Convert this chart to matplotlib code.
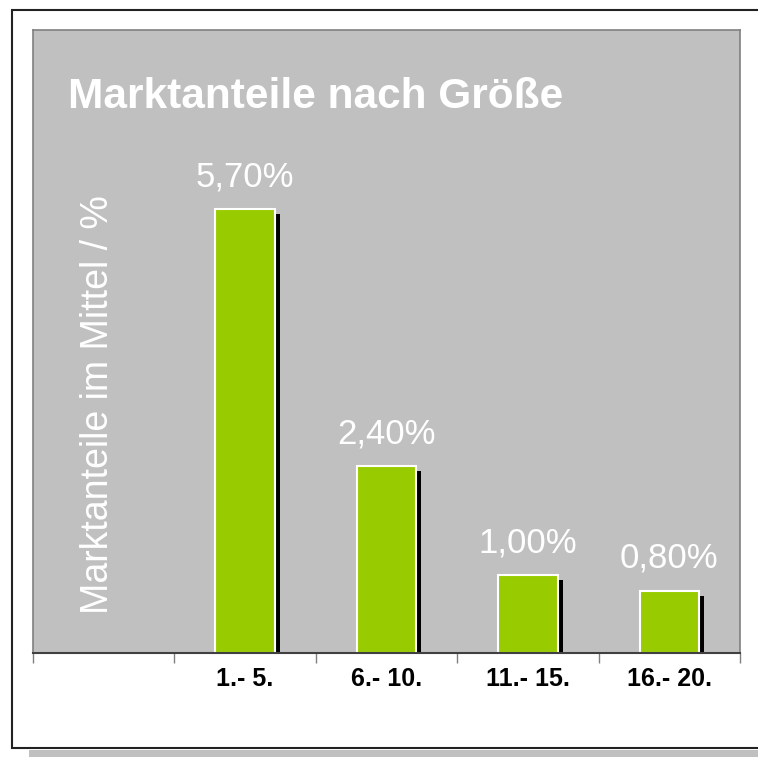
import matplotlib
matplotlib.use("Agg")
import matplotlib.pyplot as plt
import matplotlib.patheffects as pe
from matplotlib.patches import Rectangle

plt.rcParams['font.family'] = ['Liberation Sans', 'DejaVu Sans']

categories = ['', '1.- 5.', '6.- 10.', '11.- 15.', '16.- 20.']
values = [None, 5.7, 2.4, 1.0, 0.8]
value_labels = ['', '5,70%', '2,40%', '1,00%', '0,80%']
title = 'Marktanteile nach Größe'
ylabel = 'Marktanteile im Mittel / %'

W, H = 758, 757
fig = plt.figure(figsize=(W / 100, H / 100), dpi=100)

# outer frame + shadow strip at bottom
fig.patches.append(Rectangle((29 / W, 0), 1, 7 / H, transform=fig.transFigure,
                             facecolor='#c0c0c0', edgecolor='none', zorder=-2))
fig.patches.append(Rectangle((12 / W, 1 - 748 / H), 1, (748 - 10) / H,
                             transform=fig.transFigure, facecolor='white',
                             edgecolor='#222222', linewidth=1.5, zorder=-1))

ax = fig.add_axes([33 / W, 1 - 653 / H, (740 - 33) / W, (653 - 30) / H])
ax.set_facecolor('#c0c0c0')

xs = [i for i, v in enumerate(values) if v is not None]
hs = [v for v in values if v is not None]
bars = ax.bar(xs, hs, width=0.42, color='#99cc00', edgecolor='white', linewidth=1.5, zorder=2)
for b in bars:
    b.set_path_effects([pe.SimplePatchShadow(offset=(3.6, -3.6), shadow_rgbFace='black', alpha=1.0),
                        pe.Normal()])

for i, v in enumerate(values):
    if v is None:
        continue
    ax.annotate(value_labels[i], (i, v), xytext=(0, 16.5), textcoords='offset points',
                ha='center', va='baseline', color='white', fontsize=25)

ax.set_xlim(-0.5, len(categories) - 0.5)
ax.set_ylim(0, 8)
ax.set_yticks([])
ax.set_xticks([i - 0.5 for i in range(len(categories) + 1)])
ax.set_xticklabels([])
ax.tick_params(axis='x', which='major', direction='out', length=7.5, width=1, color='#808080')
ax.set_xticks(range(len(categories)), minor=True)
ax.set_xticklabels(categories, minor=True, fontsize=18, fontweight='bold')
ax.tick_params(axis='x', which='minor', length=0, pad=10)

for s in ['left', 'top', 'right']:
    ax.spines[s].set_color('#808080')
    ax.spines[s].set_linewidth(1.2)
ax.spines['bottom'].set_color('#404040')
ax.spines['bottom'].set_linewidth(1.5)

ax.text(68 / W, 1 - 108 / H, title, transform=fig.transFigure, color='white',
        fontsize=30.5, fontweight='bold', ha='left', va='baseline')
fig.text(98 / W, 1 - 405 / H, ylabel, rotation=90, color='white', fontsize=27,
         ha='center', va='center')

fig.savefig('out.png', dpi=100, facecolor='white')
